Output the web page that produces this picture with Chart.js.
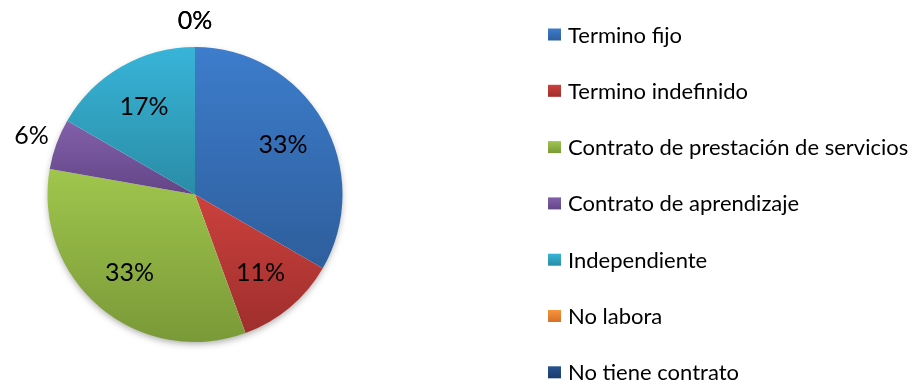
<!DOCTYPE html>
<html>
<head>
<meta charset="utf-8">
<script src="https://cdn.jsdelivr.net/npm/chart.js@4.4.1/dist/chart.umd.min.js"></script>
<style>
  html, body { margin: 0; padding: 0; background: #fff; }
  #wrap { width: 915px; height: 385px; }
</style>
</head>
<body>
<div id="wrap"><canvas id="pieChart" width="915" height="385"></canvas></div>
<script>
const categories = [
  'Termino fijo',
  'Termino indefinido',
  'Contrato de prestación de servicios',
  'Contrato de aprendizaje',
  'Independiente',
  'No labora',
  'No tiene contrato'
];
const counts = [6, 2, 6, 1, 3, 0, 0];

// light (top) and dark (bottom) end of each slice gradient
const topColors = ['#3d7dcc', '#cc413e', '#a0c64d', '#8260aa', '#38b4d8', '#f8943c', '#28528f'];
const bottomColors = ['#2e5e9c', '#9e2e2c', '#7a9938', '#634587', '#2a8ca6', '#d6702a', '#1b3c6c'];

const FONT = 'Lato, "Open Sans", sans-serif';

function sumOf(arr) {
  return arr.reduce((a, b) => a + b, 0);
}

// vertical gradient spanning the slice's own top..bottom
function sliceFill(context) {
  const chart = context.chart;
  const area = chart.chartArea;
  const i = context.dataIndex;
  if (!area || i === undefined) return topColors[i || 0];

  const data = context.dataset.data;
  const total = sumOf(data);
  const start = -Math.PI / 2 + sumOf(data.slice(0, i)) / total * Math.PI * 2;
  const end = start + data[i] / total * Math.PI * 2;
  const cy = (area.top + area.bottom) / 2;
  const r = Math.min(area.width, area.height) / 2;

  const ys = [cy, cy + r * Math.sin(start), cy + r * Math.sin(end)];
  [Math.PI / 2, Math.PI * 1.5].forEach(a => {
    if (a > start && a < end) ys.push(cy + r * Math.sin(a));
  });
  const y0 = Math.min(...ys);
  const y1 = Math.max(Math.max(...ys), y0 + 1);

  const g = chart.ctx.createLinearGradient(0, y0, 0, y1);
  g.addColorStop(0, topColors[i]);
  g.addColorStop(1, bottomColors[i]);
  return g;
}

// soft shadow under the whole pie
const pieShadow = {
  id: 'pieShadow',
  beforeDatasetsDraw(chart) {
    const arc = chart.getDatasetMeta(0).data[0];
    if (!arc) return;
    const ctx = chart.ctx;
    ctx.save();
    ctx.shadowColor = 'rgba(0, 0, 0, 0.35)';
    ctx.shadowBlur = 7;
    ctx.shadowOffsetY = 3;
    ctx.fillStyle = '#ffffff';
    ctx.beginPath();
    ctx.arc(arc.x, arc.y, arc.outerRadius - 1, 0, Math.PI * 2);
    ctx.fill();
    ctx.restore();
  }
};

// percentage labels: inside for big slices, outside for small ones
const pctLabels = {
  id: 'pctLabels',
  afterDatasetsDraw(chart) {
    const ctx = chart.ctx;
    const data = chart.data.datasets[0].data;
    const total = sumOf(data);
    ctx.save();
    ctx.font = '25px ' + FONT;
    ctx.fillStyle = '#000';
    ctx.textAlign = 'center';
    ctx.textBaseline = 'alphabetic';
    chart.getDatasetMeta(0).data.forEach((arc, i) => {
      const pct = Math.round(data[i] / total * 100);
      const mid = (arc.startAngle + arc.endAngle) / 2;
      const dist = arc.outerRadius * (pct >= 10 ? 0.69 : 1.18);
      const x = arc.x + Math.cos(mid) * dist;
      const y = arc.y + Math.sin(mid) * dist;
      ctx.fillText(pct + '%', x, y + 9);
    });
    ctx.restore();
  }
};

// legend column to the right of the pie
const sideLegend = {
  id: 'sideLegend',
  afterDraw(chart) {
    const ctx = chart.ctx;
    const x = 548;
    ctx.save();
    ctx.font = '22px ' + FONT;
    ctx.textBaseline = 'alphabetic';
    chart.data.labels.forEach((name, i) => {
      const y = 34.5 + i * 56.3;
      const g = ctx.createLinearGradient(0, y - 6, 0, y + 6);
      g.addColorStop(0, topColors[i]);
      g.addColorStop(1, bottomColors[i]);
      ctx.fillStyle = g;
      ctx.fillRect(x, y - 6, 13, 12);
      ctx.fillStyle = '#000';
      ctx.fillText(name, x + 20, y + 8);
    });
    ctx.restore();
  }
};

new Chart(document.getElementById('pieChart'), {
  type: 'pie',
  data: {
    labels: categories,
    datasets: [{
      data: counts,
      backgroundColor: sliceFill,
      borderWidth: 0
    }]
  },
  options: {
    responsive: false,
    animation: false,
    layout: {
      padding: { left: 47, top: 47, bottom: 43, right: 572 }
    },
    plugins: {
      legend: { display: false },
      tooltip: { enabled: false }
    }
  },
  plugins: [pieShadow, pctLabels, sideLegend]
});
</script>
</body>
</html>
